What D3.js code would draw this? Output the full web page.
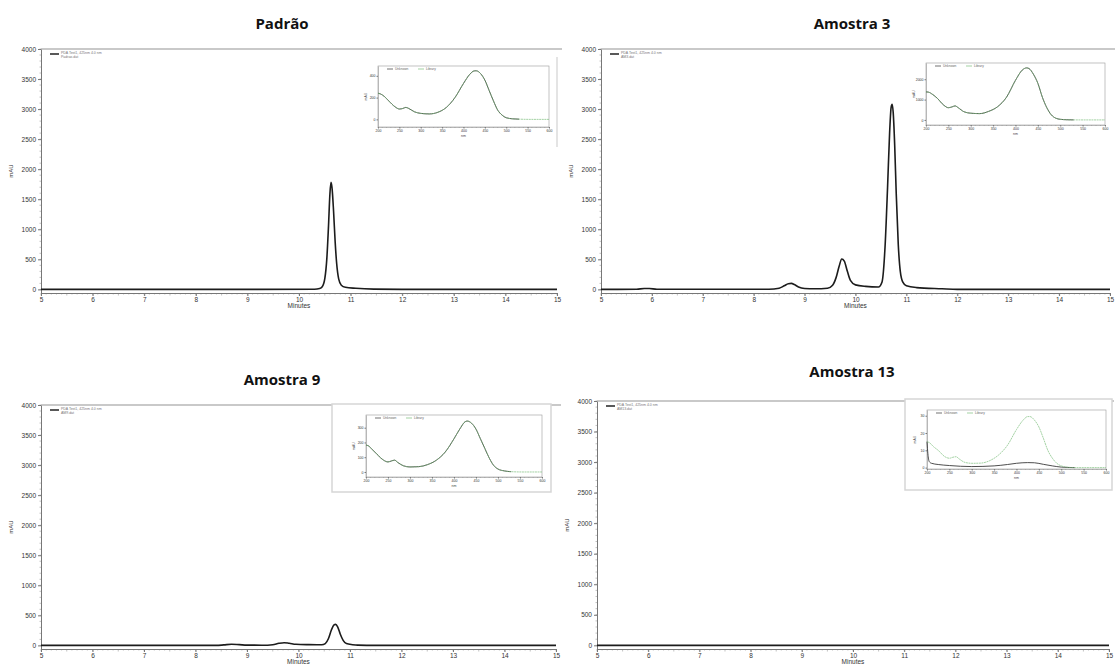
<!DOCTYPE html>
<html>
<head>
<meta charset="utf-8">
<script src="https://cdn.jsdelivr.net/npm/d3@7"></script>
<style>
  body { margin: 0; background: #fff; }
  svg text { font-family: "Liberation Sans", Arial, sans-serif; }
</style>
</head>
<body>
<svg id="chart" width="1115" height="666"></svg>
<script>
// chromatogram data (minutes / mAU)
const minuteTicks = [5, 6, 7, 8, 9, 10, 11, 12, 13, 14, 15];
const mauTicks = [0, 500, 1000, 1500, 2000, 2500, 3000, 3500, 4000];

const padraoTime = [5.0, 9.0, 10.30, 10.40, 10.45, 10.50, 10.54, 10.57, 10.60, 10.62, 10.64, 10.67, 10.70, 10.73, 10.77, 10.82, 10.90, 11.10, 11.45, 12.0, 15.0];
const padraoMau  = [0, 0, 2, 15, 45, 180, 520, 1020, 1600, 1780, 1690, 1300, 800, 430, 170, 70, 35, 18, 4, 0, 0];

const am3Time = [5.0, 5.7, 5.85, 5.95, 6.1, 8.3, 8.5, 8.6, 8.68, 8.74, 8.8, 8.88, 9.0, 9.2, 9.45, 9.55, 9.62, 9.68, 9.73, 9.78, 9.84, 9.9, 10.0, 10.2, 10.45, 10.52, 10.58, 10.63, 10.67, 10.70, 10.72, 10.74, 10.77, 10.80, 10.84, 10.88, 10.93, 11.0, 11.2, 11.7, 12.0, 15.0];
const am3Mau  = [0, 2, 15, 14, 2, 2, 20, 60, 95, 100, 80, 40, 15, 10, 20, 70, 200, 390, 505, 470, 300, 150, 75, 50, 40, 120, 700, 1700, 2600, 3030, 3080, 2950, 2400, 1600, 750, 300, 120, 60, 30, 10, 0, 0];

const am9Time = [5.0, 8.4, 8.55, 8.7, 8.85, 9.0, 9.3, 9.5, 9.62, 9.72, 9.82, 9.95, 10.2, 10.45, 10.52, 10.58, 10.64, 10.69, 10.72, 10.76, 10.81, 10.87, 10.93, 11.05, 11.15, 11.5, 15.0];
const am9Mau  = [0, 0, 8, 18, 12, 5, 3, 12, 35, 45, 35, 18, 12, 10, 30, 110, 260, 340, 350, 310, 190, 80, 30, 12, 4, 0, 0];

const am13Time = [5.0, 15.0];
const am13Mau  = [0, 0];

// UV spectra shown in the insets (nm / mAU)
const nmTicks = [200, 250, 300, 350, 400, 450, 500, 550, 600];
const specNm = [200, 205, 215, 225, 240, 250, 258, 265, 272, 285, 300, 320, 340, 360, 380, 400, 415, 425, 430, 440, 450, 460, 470, 480, 490, 500, 515, 530, 560, 600];
const padraoSpec = [240, 235, 210, 170, 115, 95, 100, 110, 100, 70, 55, 50, 65, 110, 200, 330, 415, 445, 446, 420, 360, 265, 170, 85, 40, 15, 5, 2, 0, 0];
const am3Spec = [1380, 1370, 1250, 1070, 720, 600, 640, 690, 600, 400, 330, 310, 420, 650, 1120, 1950, 2450, 2560, 2530, 2250, 1800, 1120, 600, 250, 85, 30, 8, 2, 0, 0];
const am9Spec = [182, 178, 150, 120, 80, 68, 75, 80, 65, 42, 34, 36, 50, 80, 135, 225, 300, 340, 345, 330, 290, 225, 160, 95, 45, 20, 7, 2, 0, 0];
const am13Lib = [15, 14.5, 12, 10, 6.3, 5.4, 6, 6.3, 5, 3, 2.5, 2.6, 4, 7.3, 13, 22, 27.5, 29.5, 29.5, 27.5, 23.5, 17, 10, 5.5, 2.5, 1, 0.2, 0, 0, 0];
const am13UnkNm = [200, 202, 205, 210, 225, 250, 300, 350, 380, 400, 425, 440, 460, 480, 500, 530];
const am13Unk   = [15, 8, 3.5, 2.5, 1.8, 1.2, 0.6, 1, 1.8, 2.5, 2.9, 2.8, 1.9, 1, 0.3, 0];

const svg = d3.select("#chart");
svg.append("rect").attr("width", 1115).attr("height", 666).attr("fill", "#fff");

const panels = [
  { title: "Padrão", tx: 282, ty: 29, x0: 41, x1: 557, yT: 49, yB: 293,
    time: padraoTime, mau: padraoMau, file: "Padrao.dat",
    inset: { x0: 378, x1: 549, yT: 66, yB: 127, dom: [-70, 490], ticks: [0, 200, 400], rightOnly: [557, 57, 147],
             lib: [specNm, padraoSpec], unk: [specNm, padraoSpec] } },
  { title: "Amostra 3", tx: 852, ty: 29, x0: 601, x1: 1110, yT: 49, yB: 293,
    time: am3Time, mau: am3Mau, file: "AM3.dat",
    inset: { x0: 926, x1: 1105, yT: 63, yB: 125, dom: [-250, 2800], ticks: [0, 1000, 2000],
             lib: [specNm, am3Spec], unk: [specNm, am3Spec] } },
  { title: "Amostra 9", tx: 282, ty: 385, x0: 41, x1: 556, yT: 405, yB: 649,
    time: am9Time, mau: am9Mau, file: "AM9.dat",
    inset: { x0: 366, x1: 542, yT: 415, yB: 477, dom: [-34, 386], ticks: [0, 100, 200, 300], box: [332, 404, 551, 492],
             lib: [specNm, am9Spec], unk: [specNm, am9Spec] } },
  { title: "Amostra 13", tx: 852, ty: 377, x0: 597, x1: 1109, yT: 401, yB: 649,
    time: am13Time, mau: am13Mau, file: "AM13.dat",
    inset: { x0: 927, x1: 1106, yT: 410, yB: 469, dom: [-0.8, 33.3], ticks: [0, 10, 20, 30], box: [905, 399, 1112, 490],
             lib: [specNm, am13Lib], unk: [am13UnkNm, am13Unk] } }
];

const fmt = d3.format("d");

function zip(xs, ys) { return xs.map((v, i) => [v, ys[i]]); }

function styleAxis(g, size) {
  g.selectAll("path.domain").attr("stroke", "#777").attr("stroke-width", 1);
  g.selectAll(".tick line").attr("stroke", "#777");
  g.selectAll("text").attr("fill", "#333").style("font-size", size + "px").attr("font-family", "Liberation Sans, Arial, sans-serif");
}

panels.forEach(p => {
  const x = d3.scaleLinear().domain([5, 15]).range([p.x0, p.x1]);
  const y = d3.scaleLinear().domain([-60, 4000]).range([p.yB, p.yT]);
  const g = svg.append("g");

  svg.append("text")
    .attr("x", p.tx).attr("y", p.ty)
    .attr("text-anchor", "middle")
    .style("font-family", "'Open Sans', 'Noto Sans', sans-serif")
    .style("font-weight", 700).style("font-size", "15px")
    .attr("fill", "#111")
    .text(p.title);

  // top frame line
  g.append("line")
    .attr("x1", p.x0).attr("x2", Math.min(p.x1 + 5, 1115)).attr("y1", p.yT).attr("y2", p.yT)
    .attr("stroke", "#c9c9c9").attr("stroke-width", 2);

  // minor ticks
  const minorY = d3.range(0, 4001, 100);
  g.selectAll(".my").data(minorY).enter().append("line")
    .attr("x1", p.x0 - 1.5).attr("x2", p.x0).attr("y1", d => y(d)).attr("y2", d => y(d))
    .attr("stroke", "#999").attr("stroke-width", 0.6);
  const minorX = d3.range(50, 151).map(d => d / 10);
  g.selectAll(".mx").data(minorX).enter().append("line")
    .attr("x1", d => x(d)).attr("x2", d => x(d))
    .attr("y1", p.yB).attr("y2", (d, i) => p.yB + (i % 5 === 0 ? 2.5 : 1.5))
    .attr("stroke", "#999").attr("stroke-width", 0.6);

  const ya = g.append("g").attr("transform", `translate(${p.x0},0)`)
    .call(d3.axisLeft(y).tickValues(mauTicks).tickFormat(fmt).tickSize(3).tickPadding(2).tickSizeOuter(0));
  styleAxis(ya, 6.5);
  const xa = g.append("g").attr("transform", `translate(0,${p.yB})`)
    .call(d3.axisBottom(x).tickValues(minuteTicks).tickFormat(fmt).tickSize(3).tickPadding(1).tickSizeOuter(0));
  styleAxis(xa, 6.5);

  g.append("text")
    .attr("transform", `translate(${p.x0 - 28},${(p.yT + p.yB) / 2}) rotate(-90)`)
    .attr("text-anchor", "middle").style("font-size", "6px").attr("fill", "#333")
    .text("mAU");
  g.append("text")
    .attr("x", x(10)).attr("y", p.yB + 14.5)
    .attr("text-anchor", "middle").style("font-size", "6.5px").attr("fill", "#333")
    .text("Minutes");

  // legend
  g.append("line")
    .attr("x1", p.x0 + 9).attr("x2", p.x0 + 18).attr("y1", p.yT + 5).attr("y2", p.yT + 5)
    .attr("stroke", "#222").attr("stroke-width", 1.5);
  g.append("text").attr("x", p.x0 + 20).attr("y", p.yT + 4.5)
    .style("font-size", "3.5px").attr("fill", "#777").text("PDA Test1, 425nm 4.0 nm");
  g.append("text").attr("x", p.x0 + 20).attr("y", p.yT + 8.5)
    .style("font-size", "3.5px").attr("fill", "#777").text(p.file);

  // chromatogram trace
  const line = d3.line().x(d => x(d[0])).y(d => y(d[1])).curve(d3.curveMonotoneX);
  g.append("path")
    .datum(zip(p.time, p.mau))
    .attr("d", line)
    .attr("fill", "none").attr("stroke", "#1c1c1c").attr("stroke-width", 1.6);

  drawInset(g, p.inset);
});

function drawInset(parent, s) {
  const g = parent.append("g");
  if (s.box) {
    g.append("rect")
      .attr("x", s.box[0]).attr("y", s.box[1])
      .attr("width", s.box[2] - s.box[0]).attr("height", s.box[3] - s.box[1])
      .attr("fill", "#fff").attr("stroke", "#d6d6d6").attr("stroke-width", 1.5);
  }
  if (s.rightOnly) {
    g.append("line")
      .attr("x1", s.rightOnly[0]).attr("x2", s.rightOnly[0])
      .attr("y1", s.rightOnly[1]).attr("y2", s.rightOnly[2])
      .attr("stroke", "#c9c9c9").attr("stroke-width", 1);
  }
  const x = d3.scaleLinear().domain([200, 600]).range([s.x0, s.x1]);
  const y = d3.scaleLinear().domain(s.dom).range([s.yB, s.yT]);

  g.append("rect")
    .attr("x", s.x0).attr("y", s.yT)
    .attr("width", s.x1 - s.x0).attr("height", s.yB - s.yT)
    .attr("fill", "#fff").attr("stroke", "#9a9a9a").attr("stroke-width", 0.6);

  g.selectAll(".mnx").data(d3.range(200, 601, 10)).enter().append("line")
    .attr("x1", d => x(d)).attr("x2", d => x(d))
    .attr("y1", s.yB).attr("y2", s.yB + 1)
    .attr("stroke", "#888").attr("stroke-width", 0.5);

  const xa = g.append("g").attr("transform", `translate(0,${s.yB})`)
    .call(d3.axisBottom(x).tickValues(nmTicks).tickFormat(fmt).tickSize(1.5).tickPadding(1).tickSizeOuter(0));
  styleAxis(xa, 3.5);
  const ya = g.append("g").attr("transform", `translate(${s.x0},0)`)
    .call(d3.axisLeft(y).tickValues(s.ticks).tickFormat(fmt).tickSize(1.5).tickPadding(1).tickSizeOuter(0));
  styleAxis(ya, 3.5);
  xa.selectAll("path.domain").attr("stroke", "#9a9a9a").attr("stroke-width", 0.6);
  ya.selectAll("path.domain").attr("stroke", "#9a9a9a").attr("stroke-width", 0.6);

  g.append("text")
    .attr("transform", `translate(${s.x0 - 11},${(s.yT + s.yB) / 2}) rotate(-90)`)
    .attr("text-anchor", "middle").style("font-size", "3.5px").attr("fill", "#444").text("mAU");
  g.append("text")
    .attr("x", (s.x0 + s.x1) / 2).attr("y", s.yB + 10)
    .attr("text-anchor", "middle").style("font-size", "3.5px").attr("fill", "#444").text("nm");

  // legend
  [["Unknown", "#333", 9], ["Library", "#7cbf7c", 40]].forEach(([name, col, off]) => {
    g.append("line")
      .attr("x1", s.x0 + off).attr("x2", s.x0 + off + 6)
      .attr("y1", s.yT + 3).attr("y2", s.yT + 3)
      .attr("stroke", col).attr("stroke-width", 0.7);
    g.append("text").attr("x", s.x0 + off + 8).attr("y", s.yT + 4.2)
      .style("font-size", "3.2px").attr("fill", "#666").text(name);
  });

  const line = d3.line().x(d => x(d[0])).y(d => y(d[1])).curve(d3.curveMonotoneX);
  const unk = zip(s.unk[0], s.unk[1]).filter(d => d[0] <= 530);
  g.append("path").datum(unk).attr("d", line)
    .attr("fill", "none").attr("stroke", "#3a3a3a").attr("stroke-width", 0.9);
  g.append("path").datum(zip(s.lib[0], s.lib[1])).attr("d", line)
    .attr("fill", "none").attr("stroke", "#7cbf7c").attr("stroke-width", 0.7)
    .attr("stroke-dasharray", "2,0.6");
}
</script>
</body>
</html>
